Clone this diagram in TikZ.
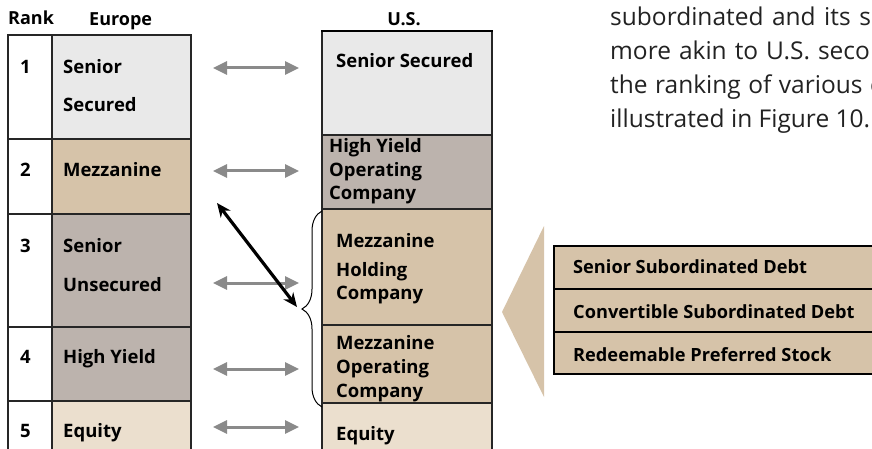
\documentclass[tikz,border=0pt]{standalone}
\usepackage{fontspec}
\setmainfont{Open Sans}
\usepackage{xcolor}
\usetikzlibrary{calc}
\usetikzlibrary{positioning}
\usetikzlibrary{arrows.meta}
\usetikzlibrary{decorations.pathreplacing}
\definecolor{senior-grey}{RGB}{233, 233, 233}
\definecolor{mezz-tan}{RGB}{214, 195, 169}
\definecolor{unsec-grey}{RGB}{188, 179, 173}
\definecolor{equity-tan}{RGB}{235, 223, 206}
\definecolor{link-grey}{RGB}{138, 138, 138}
\definecolor{body-ink}{RGB}{34, 34, 34}

\tikzset{
  cell/.style={draw=black!85, line width=1.4pt},
  hdr/.style={anchor=base west, inner sep=0pt, font=\bfseries\fontsize{18}{20}\selectfont},
  lbl/.style={anchor=base west, inner sep=0pt, font=\bfseries\fontsize{18.5}{20}\selectfont},
  sublbl/.style={anchor=base west, inner sep=0pt, font=\bfseries\fontsize{18.2}{20}\selectfont},
  para/.style={anchor=base west, inner sep=0pt, text=body-ink, font=\fontsize{24.5}{28}\selectfont},
  twoway/.style={link-grey, line width=3pt, {Triangle[length=14pt,width=13pt]}-{Triangle[length=14pt,width=13pt]}},
  swap/.style={black, line width=3.2pt, {Stealth[length=14pt,width=12pt]}-{Stealth[length=14pt,width=12pt]}}
}

\begin{document}
\begin{tikzpicture}[x=1pt,y=-1pt]
\useasboundingbox (0,0) rectangle (872,449);
\clip (0,0) rectangle (872,449);

% Europe ranking
\draw[cell] (8,35) rectangle (52,139);
\draw[cell] (8,139) rectangle (52,214);
\draw[cell] (8,214) rectangle (52,327);
\draw[cell] (8,327) rectangle (52,401);
\draw[cell] (8,401) rectangle (52,470);
\filldraw[cell, fill=senior-grey] (52,35) rectangle (191,139);
\filldraw[cell, fill=mezz-tan] (52,139) rectangle (191,214);
\filldraw[cell, fill=unsec-grey] (52,214) rectangle (191,327);
\filldraw[cell, fill=unsec-grey] (52,327) rectangle (191,401);
\filldraw[cell, fill=equity-tan] (52,401) rectangle (191,470);

\node[hdr] (rank) at (8,25) {Rank};
\node[hdr] (europe) at (89,26) {Europe};
\node[lbl] (r1) at (20,74) {1};
\node[lbl] (r2) at (20,177) {2};
\node[lbl] (r3) at (20,252) {3};
\node[lbl] (r4) at (20,363) {4};
\node[lbl] (r5) at (20,437) {5};
\node[lbl] (eu1a) at (63,74) {Senior};
\node[lbl] (eu1b) at (63,112) {Secured};
\node[lbl] (eu2) at (63,177) {Mezzanine};
\node[lbl] (eu3a) at (63,252) {Senior};
\node[lbl] (eu3b) at (63,291) {Unsecured};
\node[lbl] (eu4) at (63,363) {High Yield};
\node[lbl] (eu5) at (63,437) {Equity};

% U.S. ranking
\filldraw[cell, fill=senior-grey] (322,31) rectangle (492,135);
\filldraw[cell, fill=unsec-grey] (322,135) rectangle (492,209);
\filldraw[cell, fill=mezz-tan] (322,209) rectangle (492,325);
\filldraw[cell, fill=mezz-tan] (322,325) rectangle (492,403);
\filldraw[cell, fill=equity-tan] (322,403) rectangle (492,470);
\draw[line width=2.6pt] (321,31) -- (493,31);

\node[hdr, anchor=base] (us) at (404,26) {U.S.};
\node[lbl] (us1) at (336,68) {Senior Secured};
\node[lbl] (us2a) at (329,153) {High Yield};
\node[lbl] (us2b) at (329,177) {Operating};
\node[lbl] (us2c) at (329,200) {Company};
\node[lbl] (us3a) at (336,247) {Mezzanine};
\node[lbl] (us3b) at (336,276) {Holding};
\node[lbl] (us3c) at (336,299) {Company};
\node[lbl] (us4a) at (336,349) {Mezzanine};
\node[lbl] (us4b) at (336,373) {Operating};
\node[lbl] (us4c) at (336,397) {Company};
\node[lbl] (us5) at (336,440) {Equity};

% links between the two columns
\coordinate (eu1-out) at (213,68);
\coordinate (us1-in) at (299,68);
\coordinate (eu2-out) at (213,171);
\coordinate (us2-in) at (299,171);
\coordinate (eu3-out) at (213,283);
\coordinate (us3-in) at (299,283);
\coordinate (eu4-out) at (213,369);
\coordinate (us4-in) at (299,369);
\coordinate (eu5-out) at (213,427);
\coordinate (us5-in) at (299,427);
\draw[twoway] (eu1-out) -- (us1-in);
\draw[twoway] (eu2-out) -- (us2-in);
\draw[twoway] (eu3-out) -- (us3-in);
\draw[twoway] (eu4-out) -- (us4-in);
\draw[twoway] (eu5-out) -- (us5-in);

\draw[decorate, decoration={brace, amplitude=20pt}, line width=1pt] (322,407) -- (322,211);
\coordinate (mezz-top) at (217,203);
\coordinate (brace-tip) at (297,307);
\draw[swap] (mezz-top) -- (brace-tip);

% mezzanine instruments
\fill[mezz-tan] (544,226) -- (502,312) -- (544,397) -- cycle;
\filldraw[cell, draw=black, line width=2pt, fill=mezz-tan] (554,246) rectangle (890,289);
\filldraw[cell, draw=black, line width=2pt, fill=mezz-tan] (554,289) rectangle (890,332);
\filldraw[cell, draw=black, line width=2pt, fill=mezz-tan] (554,332) rectangle (890,374);
\node[sublbl] (ssd) at (573,273) {Senior Subordinated Debt};
\node[sublbl] (csd) at (573,318) {Convertible Subordinated Debt};
\node[sublbl] (rps) at (573,361) {Redeemable Preferred Stock};

% body text (justified lines)
\node[para] (txt1) at (610,26) {\spaceskip=8.5pt subordinated and its se};
\node[para] (txt2) at (610,60) {\spaceskip=8pt more akin to U.S. seco};
\node[para] (txt3) at (610,94) {\spaceskip=7.5pt the ranking of various c};
\node[para] (txt4) at (610,128) {illustrated in Figure 10.};
\end{tikzpicture}
\end{document}
